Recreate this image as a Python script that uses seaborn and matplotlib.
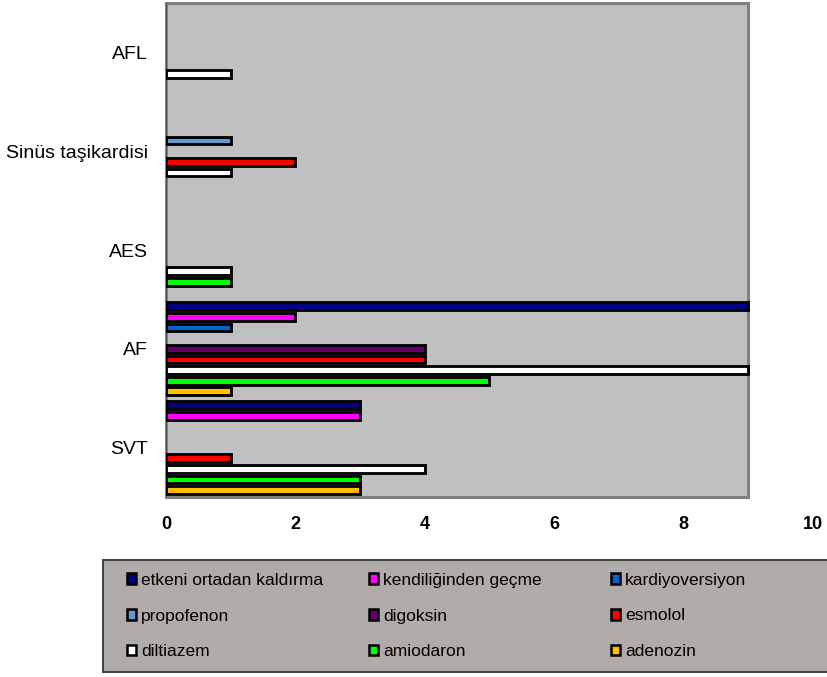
import matplotlib
matplotlib.use("Agg")
import matplotlib.pyplot as plt
from matplotlib.patches import Patch, Rectangle
import seaborn as sns
import pandas as pd

# Rhythm categories, listed top to bottom
categories = ["AFL", "Sinüs taşikardisi", "AES", "AF", "SVT"]

# Treatment series, listed top to bottom within each group
series = ["etkeni ortadan kaldırma", "kendiliğinden geçme", "kardiyoversiyon",
          "propofenon", "digoksin", "esmolol", "diltiazem", "amiodaron", "adenozin"]

# Case counts per series, in the order of `categories`
etkeni = [0, 0, 0, 9, 3]
kendiliginden = [0, 0, 0, 2, 3]
kardiyoversiyon = [0, 0, 0, 1, 0]
propofenon = [0, 1, 0, 0, 0]
digoksin = [0, 0, 0, 4, 0]
esmolol = [0, 2, 0, 4, 1]
diltiazem = [1, 1, 1, 9, 4]
amiodaron = [0, 0, 1, 5, 3]
adenozin = [0, 0, 0, 1, 3]

xticks = [0, 2, 4, 6, 8, 10]
plot_max = 9  # grey plot area stops here, tick labels run on to 10

colors = ["#000080", "#FF00FF", "#0066CC", "#6699CC", "#660066",
          "#FF0000", "#FFFFFF", "#00FF00", "#FFC000"]

values = [etkeni, kendiliginden, kardiyoversiyon, propofenon, digoksin,
          esmolol, diltiazem, amiodaron, adenozin]
rows = []
for name, vals in zip(series, values):
    for cat, v in zip(categories, vals):
        rows.append({"kategori": cat, "tedavi": name, "sayı": v})
df = pd.DataFrame(rows)

sns.set_theme(style="white")
plt.rcParams["font.family"] = ["Liberation Sans", "DejaVu Sans"]
plt.rcParams["text.color"] = "black"

W, H = 828, 677
fig = plt.figure(figsize=(W / 100, H / 100), dpi=100)
ax = fig.add_axes([166 / W, 1 - 497 / H, (813 - 166) / W, (497 - 3) / H])
ax.set_facecolor("none")

sns.barplot(data=df, y="kategori", x="sayı", hue="tedavi",
            order=categories, hue_order=series, palette=colors,
            orient="h", width=0.967, gap=0.27, edgecolor="black",
            linewidth=2.05, saturation=1, errorbar=None, legend=False, ax=ax)

# Empty counts draw nothing
for p in ax.patches:
    if p.get_width() == 0:
        p.set_visible(False)

ax.set_xlim(0, 10)
ax.set_xticks(xticks)
ax.set_xticklabels([str(t) for t in xticks], fontweight="bold", fontsize=13)
ax.tick_params(axis="x", length=0, pad=14, colors="black")
ax.tick_params(axis="y", length=0, pad=13, labelsize=14, colors="black")
ax.set_xlabel("")
ax.set_ylabel("")
for side in ax.spines:
    ax.spines[side].set_visible(False)

# Grey plot area from 0 to plot_max
area = Rectangle((0, 0), plot_max, 1, transform=ax.get_xaxis_transform(),
                 facecolor="#C0C0C0", edgecolor="#808080", linewidth=2.2,
                 zorder=0.5, clip_on=False)
ax.add_patch(area)
ax.axvline(0, color="#505050", linewidth=1.5, zorder=0.6)

# Legend box and its three columns
box = Rectangle((103 / W, 1 - 672 / H), (830 - 103) / W, (672 - 560) / H,
                transform=fig.transFigure, facecolor="#B0ACAA",
                edgecolor="#404040", linewidth=1.4, zorder=0)
fig.add_artist(box)

col_x = [127, 369, 611]
for c in range(3):
    names = series[c::3]
    handles = [Patch(facecolor=colors[series.index(n)], edgecolor="black",
                     linewidth=1.8) for n in names]
    leg = fig.legend(handles, names, loc="center left",
                     bbox_to_anchor=(col_x[c] / W, 1 - 616 / H),
                     fontsize=12.5, frameon=False, handlelength=0.5,
                     handleheight=0.55, handletextpad=0.3, borderpad=0,
                     borderaxespad=0, labelspacing=1.2, labelcolor="black")
    leg.set_zorder(2)

fig.savefig("out.png", dpi=100)
